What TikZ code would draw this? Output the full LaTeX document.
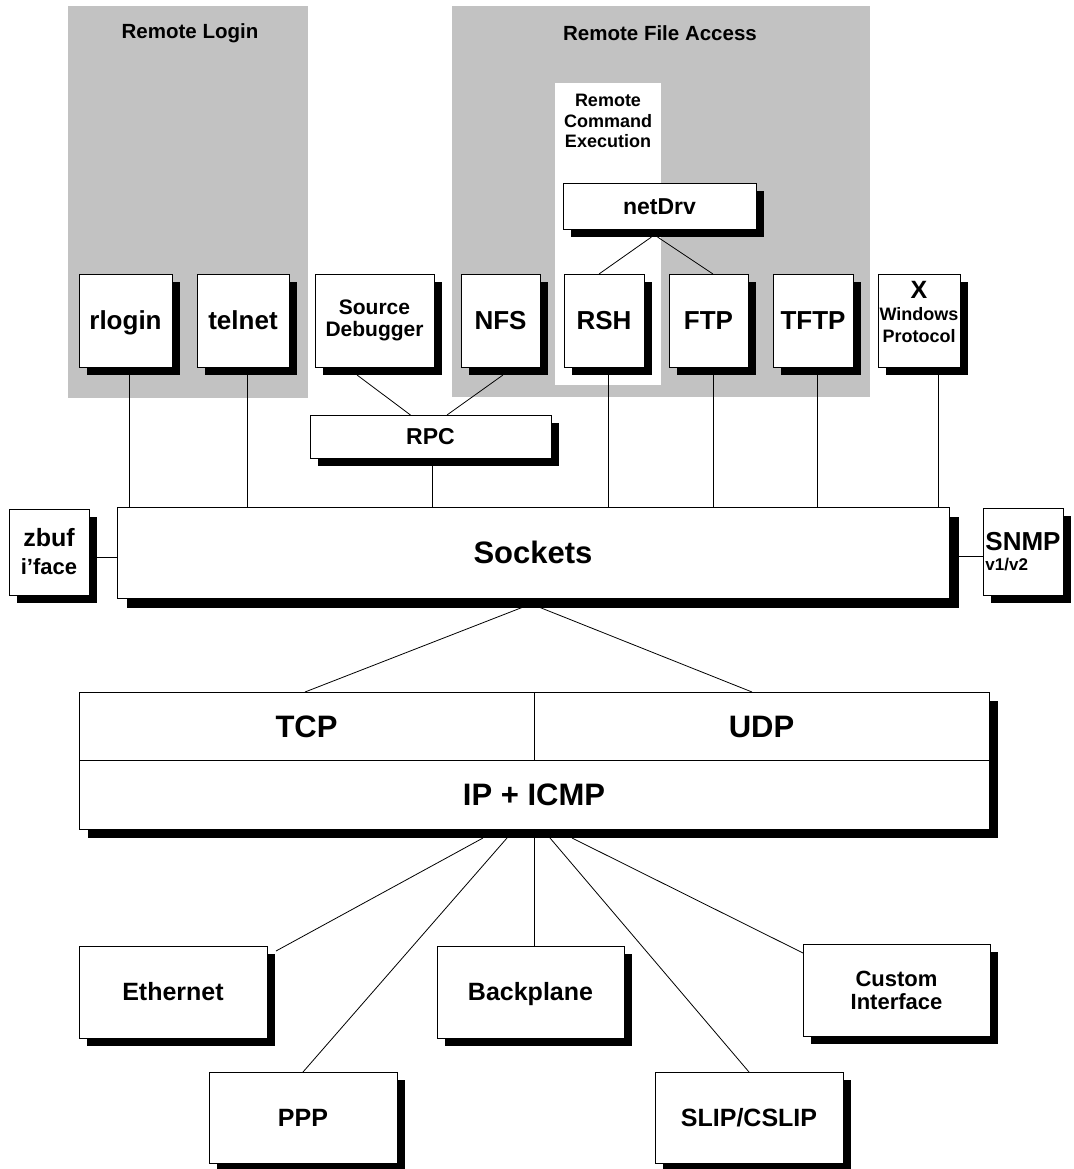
\documentclass[tikz,border=0pt]{standalone}
\usepackage{fontspec}
\setmainfont{Liberation Sans}
\usetikzlibrary{calc,shadows}
\begin{document}
\begin{tikzpicture}[x=1pt,y=-1pt,
  region/.style={fill=black!24, draw=none},
  fs/.style 2 args={font=\bfseries\fontsize{#1}{#2}\selectfont},
  dim/.style 2 args={minimum width=#1pt, minimum height=#2pt},
  shadowbox/.style={draw, line width=0.8pt, fill=white, inner sep=0pt, outer sep=0pt,
    align=center, fs={26}{28},
    drop shadow={shadow xshift=#1, shadow yshift=-#1, fill=black, opacity=1}},
  shadowbox/.default=8pt,
  oneline/.style={text height=#1, text depth=0pt},
  oneline/.default=18.6pt,
  title/.style={fs={20.5}{22}, align=center, inner sep=0pt},
  link/.style={line width=0.8pt}
]
\useasboundingbox (0,0) rectangle (1073,1169);

% shaded service groups
\fill[region] (68,6) rectangle (308,398);
\fill[region] (452,6) rectangle (870,397);
\fill[white] (555,83) rectangle (661,385);

\node[title] (tLogin) at (190,33) {Remote Login};
\node[title] (tFile) at (660,33) {Remote File Access};
\node[title, fs={18}{20.5}] (tRce) at (608,121) {Remote\\Command\\Execution};

% application layer
\node[shadowbox, oneline, dim={93}{93}] (rlogin) at (125.5,320.5) {rlogin};
\node[shadowbox, oneline, dim={92}{93}] (telnet) at (243,320.5) {telnet};
\node[shadowbox, dim={119}{93}, fs={21}{22}] (srcdbg) at (374.5,320.5) {Source\\Debugger};
\node[shadowbox, oneline, dim={79}{93}] (nfs) at (500.5,320.5) {NFS};
\node[shadowbox, oneline, dim={80}{93}] (rsh) at (604,320.5) {RSH};
\node[shadowbox, oneline, dim={79}{93}] (ftp) at (708.5,320.5) {FTP};
\node[shadowbox, oneline, dim={80}{93}] (tftp) at (813,320.5) {TFTP};
\node[shadowbox, dim={82}{93}] (xwin) at (919,320.5) {};
\node[fs={18}{22}, align=center, inner sep=0pt] (xwintext) at (919,312)
  {{\fontsize{25}{24}\selectfont X}\\Windows\\Protocol};
\node[shadowbox, oneline=16.5pt, dim={193}{46}, fs={23}{25}] (netdrv) at (659.5,206) {netDrv};
\node[shadowbox, oneline=16.5pt, dim={241}{43}, fs={23}{25}] (rpc) at (430.5,436.5) {RPC};

% sockets layer
\node[shadowbox=9.5pt, oneline=22.2pt, dim={832}{91}, fs={31}{33}] (sockets) at (533,552.5) {Sockets};
\node[shadowbox, dim={80}{86}, fs={22}{28}] (zbuf) at (49,552)
  {{\fontsize{25}{28}\selectfont zbuf}\\i'face};
\node[shadowbox, dim={80}{87}, fs={17}{20}, align=left] (snmp) at (1023,551.5)
  {{\fontsize{26}{22}\selectfont SNMP}\\v1/v2};

% transport and network layers
\node[shadowbox=8.5pt, oneline=22.2pt, dim={455}{68}, fs={31}{33}] (tcp) at (306.5,726) {TCP};
\node[shadowbox=8.5pt, oneline=22.2pt, dim={455}{68}, fs={31}{33}] (udp) at (761.5,726) {UDP};
\node[shadowbox=8.5pt, oneline=22.2pt, dim={910}{69}, fs={31}{33}] (ip) at (534,794.5) {IP + ICMP};

% network interfaces
\node[shadowbox, oneline=17.9pt, dim={188}{92}, fs={25}{27}] (ether) at (173,992) {Ethernet};
\node[shadowbox, oneline=17.9pt, dim={187}{92}, fs={25}{27}] (backplane) at (530.5,992) {Backplane};
\node[shadowbox, dim={187}{92}, fs={22}{23}] (custom) at (896.5,990) {Custom\\Interface};
\node[shadowbox, oneline=17.9pt, dim={188}{91}, fs={25}{27}] (ppp) at (303,1117.5) {PPP};
\node[shadowbox, oneline=17.9pt, dim={188}{91}, fs={25}{27}] (slip) at (749,1117.5) {SLIP/CSLIP};

% connector end points below the upper boxes
\coordinate (rloginDrop) at ($(rlogin.south)+(3.5,0)$);
\coordinate (telnetDrop) at ($(telnet.south)+(4,0)$);
\coordinate (rpcDrop) at ($(rpc.south)+(1.5,0)$);
\coordinate (rshDrop) at ($(rsh.south)+(4,0)$);
\coordinate (ftpDrop) at ($(ftp.south)+(4.5,0)$);
\coordinate (tftpDrop) at ($(tftp.south)+(4,0)$);
\coordinate (xwinDrop) at ($(xwin.south)+(19,0)$);
\coordinate (zbufTap) at ($(zbuf.east)+(0,5)$);
\coordinate (snmpTap) at ($(snmp.west)+(0,4.5)$);

% connectors
\draw[link] ($(netdrv.south)+(-8,8)$) -- ($(rsh.north)+(-5,0)$);
\draw[link] ($(netdrv.south)+(-2,8)$) -- ($(ftp.north)+(4.5,0)$);
\draw[link] ($(srcdbg.south)+(-17.5,8)$) -- ($(rpc.north)+(-20,0)$);
\draw[link] ($(nfs.south)+(2.5,8)$) -- ($(rpc.north)+(16.5,0)$);

\draw[link] (rloginDrop) -- (rloginDrop |- sockets.north);
\draw[link] (telnetDrop) -- (telnetDrop |- sockets.north);
\draw[link] (rpcDrop) -- (rpcDrop |- sockets.north);
\draw[link] (rshDrop) -- (rshDrop |- sockets.north);
\draw[link] (ftpDrop) -- (ftpDrop |- sockets.north);
\draw[link] (tftpDrop) -- (tftpDrop |- sockets.north);
\draw[link] (xwinDrop) -- (xwinDrop |- sockets.north);

\draw[link] (zbufTap) -- (zbufTap -| sockets.west);
\draw[link] (snmpTap -| sockets.east) -- (snmpTap);

\draw[link] ($(sockets.south)+(-11,9.5)$) -- ($(tcp.north)+(-1.5,0)$);
\draw[link] ($(sockets.south)+(7,9.5)$) -- ($(udp.north)+(-9.5,0)$);

\draw[link] ($(ip.south)+(-51,9)$) -- ($(ether.north east)+(9,5)$);
\draw[link] ($(ip.south)+(-27,9)$) -- (ppp.north);
\draw[link] ($(ip.south)+(0,9)$) -- ($(backplane.north)+(3.5,0)$);
\draw[link] ($(ip.south)+(16,9)$) -- (slip.north);
\draw[link] ($(ip.south)+(38,9)$) -- ($(custom.north west)+(0,9)$);
\end{tikzpicture}
\end{document}
